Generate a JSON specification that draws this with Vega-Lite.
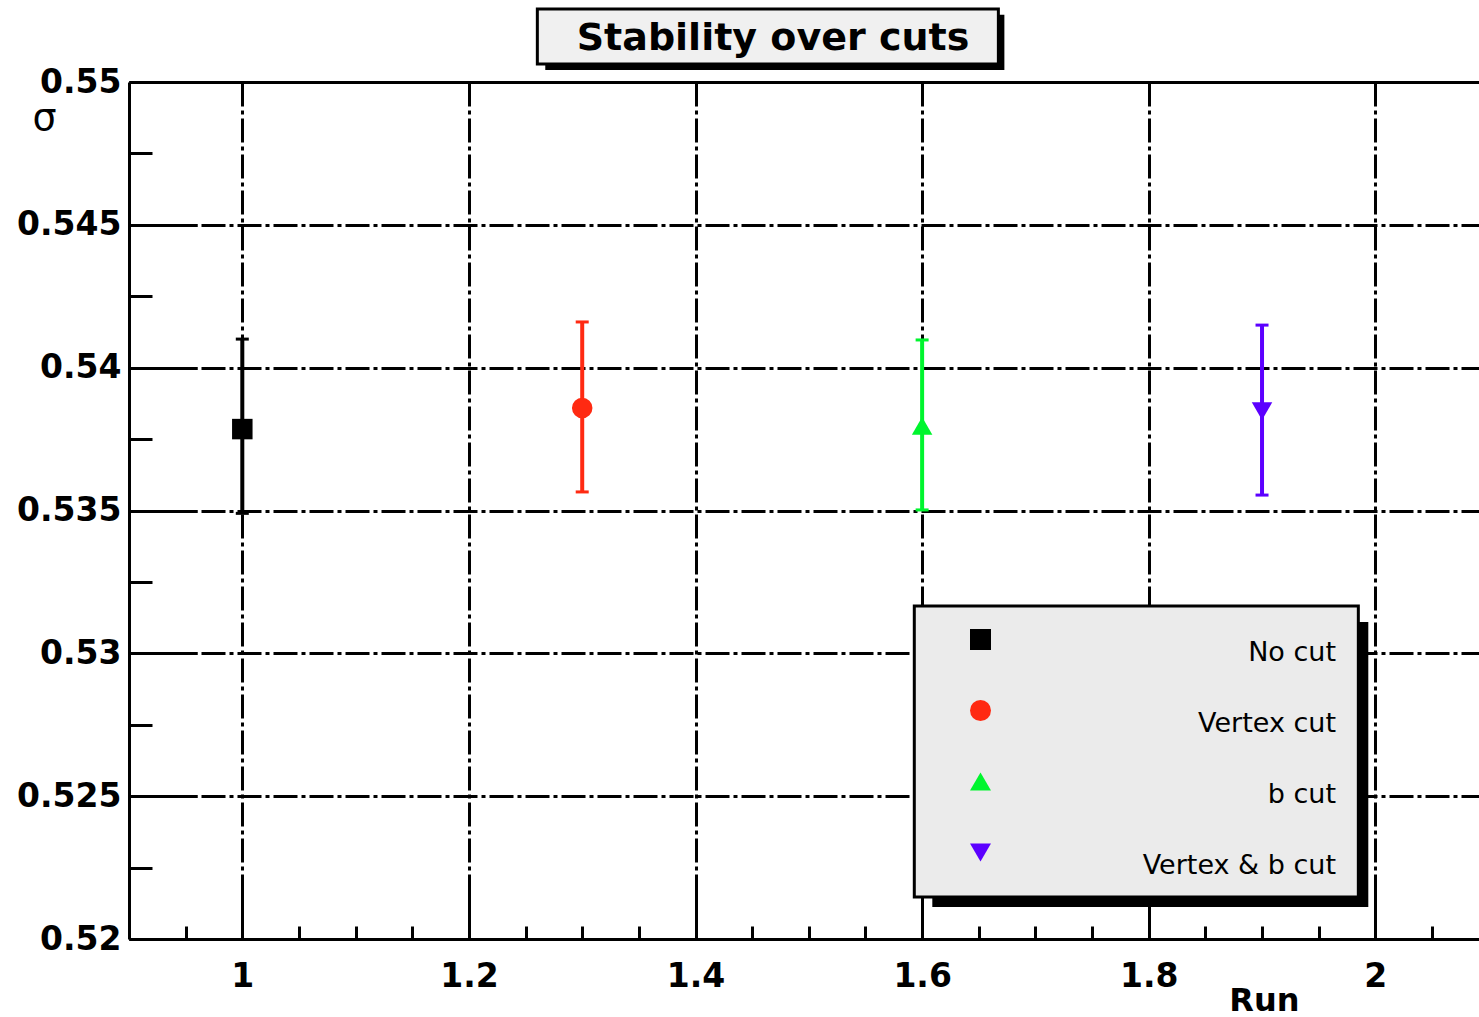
{
  "$schema": "https://vega.github.io/schema/vega-lite/v6.json",
  "width": 1350,
  "height": 857,
  "autosize": {"type": "none"},
  "padding": {"left": 129, "top": 82, "right": 0, "bottom": 78},
  "background": "white",
  "config": {
    "view": {"stroke": null},
    "axis": {
      "domainColor": "black", "domainWidth": 3, "tickColor": "black", "tickWidth": 3,
      "labelColor": "black", "gridColor": "black", "gridWidth": 3, "gridDash": [24, 4, 4, 4], "gridOpacity": 1,
      "titleColor": "black"
    }
  },
  "title": {
    "text": "Stability over cuts", "font": "DejaVu Sans", "fontSize": 38, "fontWeight": "bold",
    "color": "black", "anchor": "middle", "frame": "group", "dx": -31, "offset": -80, "baseline": "alphabetic"
  },
  "datasets": {
    "pts": [
      {"run": 1.0, "sigma": 0.53785, "lo": 0.5349, "hi": 0.5410, "cut": "No cut"},
      {"run": 1.3, "sigma": 0.53859, "lo": 0.53565, "hi": 0.5416, "cut": "Vertex cut"},
      {"run": 1.6, "sigma": 0.53796, "lo": 0.53502, "hi": 0.54097, "cut": "b cut"},
      {"run": 1.9, "sigma": 0.53848, "lo": 0.53554, "hi": 0.54149, "cut": "Vertex & b cut"}
    ]
  },
  "layer": [
    {
      "data": {"values": [{}]},
      "mark": {"type": "rect", "fill": "black"},
      "encoding": {
        "x": {"datum": 1.2674, "type": "quantitative", "scale": {"domain": [0.9, 2.0915], "nice": false, "zero": false}, "axis": null},
        "x2": {"datum": 1.6726},
        "y": {"datum": 0.55235, "type": "quantitative", "scale": {"domain": [0.52, 0.55], "nice": false, "zero": false}, "axis": null},
        "y2": {"datum": 0.55042}
      }
    },
    {
      "data": {"values": [{}]},
      "mark": {"type": "rect", "fill": "#f0f0f0", "stroke": "black", "strokeWidth": 3},
      "encoding": {
        "x": {"datum": 1.2604, "type": "quantitative", "scale": {"domain": [0.9, 2.0915], "nice": false, "zero": false}, "axis": null},
        "x2": {"datum": 1.6673},
        "y": {"datum": 0.552555, "type": "quantitative", "scale": {"domain": [0.52, 0.55], "nice": false, "zero": false}, "axis": null},
        "y2": {"datum": 0.55063}
      }
    },
    {
      "data": {"values": [{}]},
      "mark": {"type": "rect", "fill": "black"},
      "encoding": {
        "x": {"datum": 1.609, "type": "quantitative", "scale": {"domain": [0.9, 2.0915], "nice": false, "zero": false}, "axis": null},
        "x2": {"datum": 1.9938},
        "y": {"datum": 0.5311, "type": "quantitative", "scale": {"domain": [0.52, 0.55], "nice": false, "zero": false}, "axis": null},
        "y2": {"datum": 0.52112}
      }
    },
    {
      "data": {"values": [{}]},
      "mark": {"type": "rect", "fill": "#ebebeb", "stroke": "black", "strokeWidth": 3},
      "encoding": {
        "x": {"datum": 1.5931, "type": "quantitative", "scale": {"domain": [0.9, 2.0915], "nice": false, "zero": false}, "axis": null},
        "x2": {"datum": 1.985},
        "y": {"datum": 0.531657, "type": "quantitative", "scale": {"domain": [0.52, 0.55], "nice": false, "zero": false}, "axis": null},
        "y2": {"datum": 0.521471}
      }
    },
    {
      "data": {"name": "pts"},
      "mark": {"type": "rule", "strokeWidth": 4},
      "encoding": {
        "x": {"field": "run", "type": "quantitative", "scale": {"domain": [0.9, 2.0915], "nice": false, "zero": false},
          "axis": {"orient": "bottom", "values": [0.95, 1.05, 1.1, 1.15, 1.25, 1.3, 1.35, 1.45, 1.5, 1.55, 1.65, 1.7, 1.75, 1.85, 1.9, 1.95, 2.05],
            "labels": false, "grid": false, "tickSize": -13, "domain": true, "title": null}},
        "y": {"field": "lo", "type": "quantitative", "scale": {"domain": [0.52, 0.55], "nice": false, "zero": false},
          "axis": {"orient": "left", "values": [0.5225, 0.5275, 0.5325, 0.5375, 0.5425, 0.5475],
            "labels": false, "grid": false, "tickSize": -23, "domain": true, "title": null}},
        "y2": {"field": "hi"},
        "color": {"field": "cut", "type": "nominal",
          "scale": {"domain": ["No cut", "Vertex cut", "b cut", "Vertex & b cut"], "range": ["#000000", "#ff2a12", "#00f52e", "#5c00ff"]}}
      }
    },
    {
      "data": {"name": "pts"},
      "mark": {"type": "tick", "orient": "horizontal", "size": 13, "thickness": 3, "opacity": 1},
      "encoding": {
        "x": {"field": "run", "type": "quantitative", "scale": {"domain": [0.9, 2.0915], "nice": false, "zero": false},
          "axis": {"orient": "top", "ticks": false, "labels": false, "grid": false, "domain": true, "title": null}},
        "y": {"field": "lo", "type": "quantitative", "scale": {"domain": [0.52, 0.55], "nice": false, "zero": false},
          "axis": {"orient": "left", "values": [0.52, 0.525, 0.53, 0.535, 0.54, 0.545, 0.55],
            "labels": false, "grid": false, "tickSize": -68, "domain": false, "title": null}},
        "color": {"field": "cut", "type": "nominal",
          "scale": {"domain": ["No cut", "Vertex cut", "b cut", "Vertex & b cut"], "range": ["#000000", "#ff2a12", "#00f52e", "#5c00ff"]}}
      }
    },
    {
      "data": {"name": "pts"},
      "mark": {"type": "tick", "orient": "horizontal", "size": 13, "thickness": 3, "opacity": 1},
      "encoding": {
        "x": {"field": "run", "type": "quantitative", "scale": {"domain": [0.9, 2.0915], "nice": false, "zero": false},
          "axis": {"orient": "bottom", "values": [1, 1.2, 1.4, 1.6, 1.8, 2], "labels": false, "grid": false,
            "tickSize": -42, "domain": false, "title": null}},
        "y": {"field": "hi", "type": "quantitative", "scale": {"domain": [0.52, 0.55], "nice": false, "zero": false}, "axis": null},
        "color": {"field": "cut", "type": "nominal",
          "scale": {"domain": ["No cut", "Vertex cut", "b cut", "Vertex & b cut"], "range": ["#000000", "#ff2a12", "#00f52e", "#5c00ff"]}}
      }
    },
    {
      "data": {"name": "pts"},
      "mark": {"type": "point", "filled": true, "size": 420, "opacity": 1, "strokeWidth": 0},
      "encoding": {
        "x": {"field": "run", "type": "quantitative", "scale": {"domain": [0.9, 2.0915], "nice": false, "zero": false},
          "axis": {"orient": "bottom", "values": [1, 1.2, 1.4, 1.6, 1.8, 2], "format": ".1~f", "ticks": false, "domain": false,
            "grid": true, "labelFont": "DejaVu Sans", "labelFontSize": 33, "labelFontWeight": "bold",
            "labelPadding": 21, "labelBaseline": "top", "labelFlush": false, "labelOverlap": false,
            "title": "Run", "titleFont": "DejaVu Sans", "titleFontSize": 32, "titleFontWeight": "bold",
            "titleX": 1170, "titleY": 71, "titleAlign": "right", "titleBaseline": "alphabetic"}},
        "y": {"field": "sigma", "type": "quantitative", "scale": {"domain": [0.52, 0.55], "nice": false, "zero": false},
          "axis": {"orient": "left", "values": [0.52, 0.525, 0.53, 0.535, 0.54, 0.545, 0.55], "format": ".3~f", "ticks": false, "domain": false,
            "grid": true, "labelFont": "DejaVu Sans", "labelFontSize": 33, "labelFontWeight": "bold",
            "labelPadding": 8, "labelAlign": "right", "labelBaseline": "middle", "labelFlush": false, "labelOverlap": false,
            "title": "σ", "titleFont": "DejaVu Sans", "titleFontSize": 38, "titleFontWeight": "normal",
            "titleAngle": 0, "titleX": -85, "titleY": 47, "titleAlign": "center", "titleBaseline": "alphabetic"}},
        "color": {"field": "cut", "type": "nominal",
          "scale": {"domain": ["No cut", "Vertex cut", "b cut", "Vertex & b cut"], "range": ["#000000", "#ff2a12", "#00f52e", "#5c00ff"]},
          "legend": {"orient": "none", "legendX": 785, "legendY": 524, "title": null,
            "padding": 20, "symbolOffset": 33, "labelAlign": "right", "labelOffset": 342,
            "labelBaseline": "top", "labelFont": "DejaVu Sans", "labelFontSize": 27, "labelColor": "black",
            "rowPadding": 31, "symbolSize": 440, "symbolStrokeWidth": 0, "symbolOpacity": 1, "labelLimit": 500}},
        "shape": {"field": "cut", "type": "nominal",
          "scale": {"domain": ["No cut", "Vertex cut", "b cut", "Vertex & b cut"], "range": ["square", "circle", "triangle-up", "triangle-down"]},
          "legend": {"orient": "none", "legendX": 785, "legendY": 524, "title": null,
            "padding": 20, "symbolOffset": 33, "labelAlign": "right", "labelOffset": 342,
            "labelBaseline": "top", "labelFont": "DejaVu Sans", "labelFontSize": 27, "labelColor": "black",
            "rowPadding": 31, "symbolSize": 440, "symbolStrokeWidth": 0, "symbolOpacity": 1, "labelLimit": 500}}
      }
    }
  ],
  "resolve": {"axis": {"x": "independent", "y": "independent"}}
}
